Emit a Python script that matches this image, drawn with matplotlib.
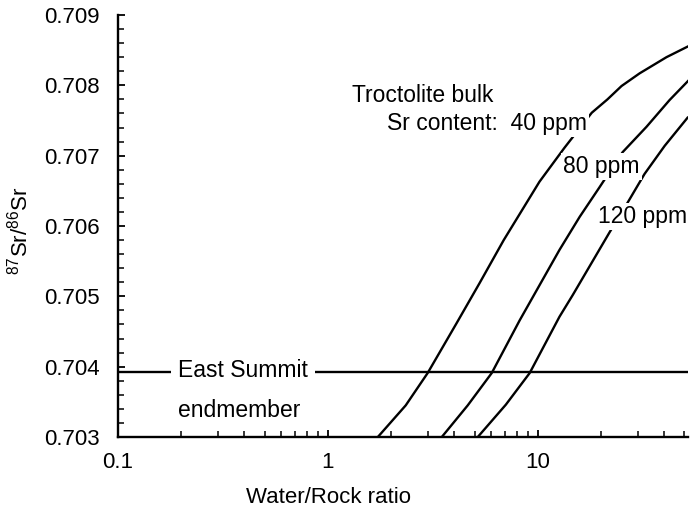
import numpy as np
import matplotlib.pyplot as plt
from matplotlib.ticker import FixedLocator, MultipleLocator, LogLocator, NullFormatter

plt.rcParams['font.family'] = ['Liberation Sans', 'DejaVu Sans']
plt.rcParams['mathtext.default'] = 'regular'

## Sr isotope mixing curves
wr_40 = [1.73, 2.35, 2.99, 4.11, 5.29, 6.89, 10.2, 13.4, 18.1, 21.5, 25.1, 30.6, 41.1, 51.8]
sr_40 = [0.70300, 0.70345, 0.70391, 0.70462, 0.70519, 0.70580, 0.70663, 0.70711,
         0.70761, 0.70780, 0.70799, 0.70817, 0.70840, 0.70855]

wr_80 = [3.49, 4.64, 6.04, 8.21, 12.7, 15.85, 19.7, 25.4, 33.0, 42.5, 52.0]
sr_80 = [0.70300, 0.70345, 0.70391, 0.70466, 0.70566, 0.70613, 0.70655, 0.70705,
         0.70741, 0.70779, 0.70806]

wr_120 = [5.18, 7.05, 9.16, 12.7, 14.7, 22.0, 26.8, 32.3, 40.3, 51.8]
sr_120 = [0.70300, 0.70346, 0.70391, 0.70471, 0.70502, 0.70591, 0.70633, 0.70674,
          0.70714, 0.70754]

east_summit = 0.70392
xlims = [0.1, 52]
ylims = [0.703, 0.709]
yticks = [0.703, 0.704, 0.705, 0.706, 0.707, 0.708, 0.709]
xticks = [0.1, 1, 10]
xticklabels = ['0.1', '1', '10']

fig = plt.figure(figsize=(6.9, 5.16), dpi=100)
ax = fig.add_axes([0.171, 0.153, 0.826, 0.818])

lw = 1.7
for wr, sr in [(wr_40, sr_40), (wr_80, sr_80), (wr_120, sr_120)]:
    ax.plot(wr, sr, 'k', lw=lw, solid_joinstyle='round', zorder=2)
ax.axhline(east_summit, color='k', lw=lw, zorder=2)

ax.set_xscale('log')
ax.set_xlim(xlims)
ax.set_ylim(ylims)

ax.xaxis.set_major_locator(FixedLocator(xticks))
ax.set_xticklabels(xticklabels)
ax.xaxis.set_minor_locator(LogLocator(base=10, subs=np.arange(2, 10)))
ax.xaxis.set_minor_formatter(NullFormatter())
ax.set_yticks(yticks)
ax.set_yticklabels(['%.3f' % v for v in yticks])
ax.yaxis.set_minor_locator(MultipleLocator(0.0002))

for s in ['top', 'right']:
    ax.spines[s].set_visible(False)
for s in ['left', 'bottom']:
    ax.spines[s].set_linewidth(1.7)

ax.tick_params(which='major', direction='in', length=5, width=1.3, labelsize=16)
ax.tick_params(which='minor', direction='in', length=4, width=1.1)
ax.tick_params(axis='x', which='major', pad=11)
ax.tick_params(axis='y', which='major', pad=13)

ax.set_xlabel('Water/Rock ratio', fontsize=16)
ax.xaxis.set_label_coords(0.370, -0.118)
ax.set_ylabel(r'$^{87}$Sr/$^{86}$Sr', fontsize=16)
ax.yaxis.set_label_coords(-0.150, 0.49)

## Labels, white box breaks the curves behind them
box = dict(facecolor='white', edgecolor='none', pad=1.5)
fs = 16.5
ax.text(1.30, 0.70786, 'Troctolite bulk', fontsize=fs, va='center', ha='left', zorder=3)
ax.text(1.91, 0.70746, 'Sr content:  40 ppm', fontsize=fs, va='center', ha='left',
        bbox=box, zorder=3)
ax.text(13.2, 0.70684, '80 ppm', fontsize=fs, va='center', ha='left', bbox=box, zorder=3)
ax.text(19.3, 0.70613, '120 ppm', fontsize=fs, va='center', ha='left', bbox=box, zorder=3)
ax.text(0.193, 0.70395, 'East Summit', fontsize=fs, va='center', ha='left',
        bbox=dict(facecolor='white', edgecolor='none', pad=5), zorder=3)
ax.text(0.193, 0.70338, 'endmember', fontsize=fs, va='center', ha='left', zorder=3)

fig.savefig('out.png', dpi=100)
